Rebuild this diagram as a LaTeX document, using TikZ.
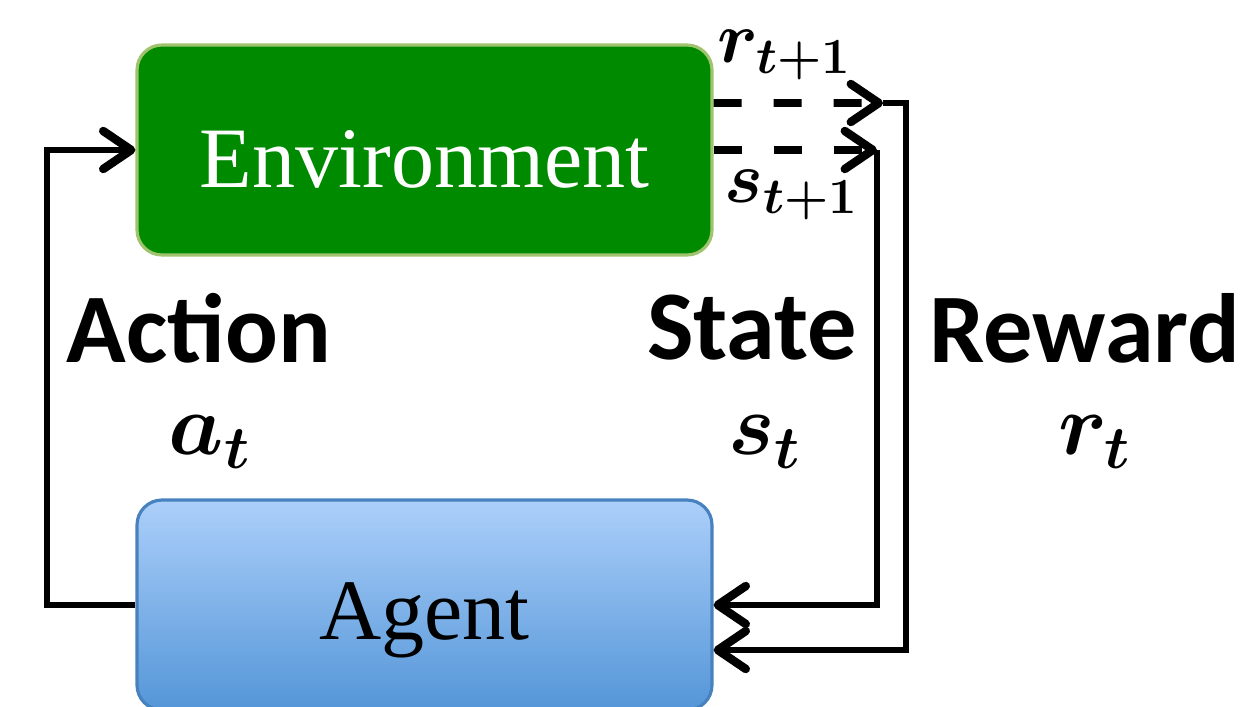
\documentclass[tikz,border=0pt]{standalone}
\usepackage{fontspec}
\setmainfont{Liberation Serif}
\newfontfamily\calfont{Carlito}
\usepackage{amsmath}
\usetikzlibrary{arrows.meta}
\usetikzlibrary{positioning}
\usepackage{xcolor}
\definecolor{envgreen}{RGB}{0,138,0}
\definecolor{envedge}{RGB}{160,195,110}
\definecolor{agtop}{RGB}{172,207,250}
\definecolor{agbot}{RGB}{84,150,216}
\definecolor{agedge}{RGB}{72,130,190}
\tikzset{
 box/.style={rounded corners=0.25cm, minimum width=5.75cm, minimum height=2.1cm, line width=0.9pt, text depth=0pt, font=\fontsize{24.5}{28}\selectfont},
 flow/.style={line width=1.6pt, -{Straight Barb[length=2.8mm,width=3.8mm,line width=2.4pt,round]}},
 dflow/.style={flow, line width=2.2pt, dash pattern=on 0.28cm off 0.32cm},
 word/.style={font=\calfont\bfseries\fontsize{28}{32}\selectfont},
 sym/.style={font=\fontsize{26}{30}\selectfont\boldmath},
 subsym/.style={font=\fontsize{20}{24}\selectfont\boldmath},
}

\begin{document}
\begin{tikzpicture}
\useasboundingbox (0,0) rectangle (12.47,7.06);
% the two blocks
\node[box, text height=7.5mm, fill=envgreen, draw=envedge, text=white] (env) at (4.245,5.56) {Environment};
\node[box, text height=6.8mm, top color=agtop, bottom color=agbot, draw=agedge] (agent) at (4.245,1.01) {Agent};
% labels
\node[word] (act) at (1.99,3.78) {Action};
\node[sym] (at) at (2.10,2.64) {$a_t$};
\node[word] (state) at (7.52,3.78) {State};
\node[sym] (st) at (7.65,2.64) {$s_t$};
\node[word] (rew) at (10.85,3.78) {Reward};
\node[sym] (rt) at (10.95,2.64) {$r_t$};
\node[subsym] (rnext) at (7.85,6.51) {$r_{t+1}$};
\node[subsym] (snext) at (7.92,5.11) {$s_{t+1}$};
% action loop
\coordinate (aturn) at (0.47,1.01);
\draw[flow] (agent.west) -- (aturn) |- (env.west);
% state and reward back to the agent
\coordinate (sturn) at (8.77,5.56);
\coordinate (rturn) at (9.06,6.03);
\draw[dflow] (env.east) -- (sturn);
\draw[flow] (sturn) |- (agent.east);
\draw[dflow] ([yshift=4.7mm]env.east) -- ([xshift=-2.3mm]rturn);
\draw[flow] ([xshift=-2.3mm]rturn) -- (rturn) |- ([yshift=-4.5mm]agent.east);
\end{tikzpicture}
\end{document}
